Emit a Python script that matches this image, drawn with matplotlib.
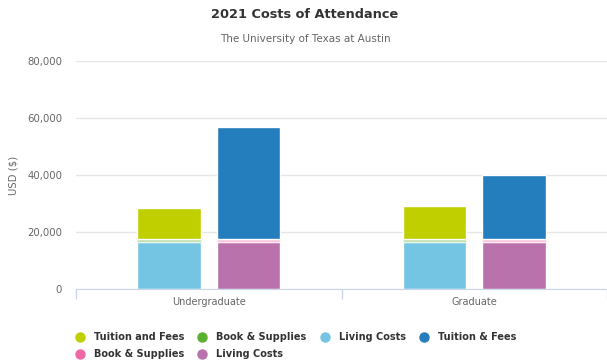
import matplotlib.pyplot as plt
from matplotlib.lines import Line2D
from matplotlib.ticker import FuncFormatter

categories = ["Undergraduate", "Graduate"]

# in-state stack (bottom to top)
instate_living = [16400, 16400]
instate_books = [1000, 1000]
instate_tuition = [11100, 11700]

# out-of-state stack (bottom to top)
outstate_living = [16400, 16400]
outstate_books = [1000, 1000]
outstate_tuition = [39550, 22500]

yticks = [0, 20000, 40000, 60000, 80000]

c_tuition_in = "#bfcf00"
c_books_in = "#5bb030"
c_living_in = "#74c5e3"
c_tuition_out = "#247dbd"
c_books_out = "#ee6aa7"
c_living_out = "#b972ab"

fig = plt.figure(figsize=(6.07, 3.62), dpi=100)
ax = fig.add_axes([76/607, 73/362, 531/607, 228/362])

x = list(range(len(categories)))
w = 0.24
xl = [i - 0.15 for i in x]
xr = [i + 0.15 for i in x]
kw = dict(width=w, edgecolor="white", linewidth=1, zorder=3)

ax.bar(xl, instate_living, color=c_living_in, **kw)
b1 = [a for a in instate_living]
ax.bar(xl, instate_books, bottom=b1, color=c_books_in, alpha=0.4, **kw)
b2 = [a + b for a, b in zip(instate_living, instate_books)]
ax.bar(xl, instate_tuition, bottom=b2, color=c_tuition_in, **kw)

ax.bar(xr, outstate_living, color=c_living_out, **kw)
b1 = [a for a in outstate_living]
ax.bar(xr, outstate_books, bottom=b1, color=c_books_out, alpha=0.4, **kw)
b2 = [a + b for a, b in zip(outstate_living, outstate_books)]
ax.bar(xr, outstate_tuition, bottom=b2, color=c_tuition_out, **kw)

ax.set_xlim(-0.5, len(categories) - 0.5)
ax.set_ylim(0, 80000)
ax.set_yticks(yticks)
ax.yaxis.set_major_formatter(FuncFormatter(lambda v, p: f"{int(v):,}"))
ax.grid(axis="y", color="#e6e6e6", linewidth=1, zorder=0)
ax.set_axisbelow(True)

for s in ["top", "right", "left"]:
    ax.spines[s].set_visible(False)
ax.spines["bottom"].set_color("#ccd6eb")
ax.spines["bottom"].set_zorder(4)

ax.set_xticks(x)
ax.set_xticklabels(categories)
ax.set_xticks([-0.5, 0.5, 1.5], minor=True)
ax.tick_params(axis="x", which="major", length=0, pad=6, labelsize=7, labelcolor="#666666")
ax.tick_params(axis="x", which="minor", length=7, color="#ccd6eb", width=1)
ax.tick_params(axis="y", length=0, pad=10, labelsize=7.3, labelcolor="#666666")

ax.set_ylabel("USD ($)", fontsize=7.3, color="#666666")
ax.yaxis.set_label_coords(-57/531, 0.5)

fig.text(305/607, 1 - 14/362, "2021 Costs of Attendance", ha="center", va="center",
         fontsize=9.3, fontweight="bold", color="#333333")
fig.text(305/607, 1 - 39/362, "The University of Texas at Austin", ha="center", va="center",
         fontsize=7.5, color="#666666")

def dot(c):
    return Line2D([], [], marker="o", linestyle="none", markersize=6.5,
                  markerfacecolor=c, markeredgecolor=c)

handles = [dot(c_tuition_in), dot(c_books_out), dot(c_books_in), dot(c_living_out),
           dot(c_living_in), dot(c_tuition_out)]
labels = ["Tuition and Fees", "Book & Supplies", "Book & Supplies", "Living Costs",
          "Living Costs", "Tuition & Fees"]
leg = fig.legend(handles, labels, ncol=4, loc="upper left",
                 bbox_to_anchor=(76/607, 1 - 332/362), frameon=False,
                 prop={"size": 7, "weight": "bold"}, handlelength=0.8,
                 handletextpad=1.05, columnspacing=1.45, labelspacing=0.75,
                 borderaxespad=0, borderpad=0)
for t in leg.get_texts():
    t.set_color("#333333")

fig.savefig("out.png", dpi=100)
